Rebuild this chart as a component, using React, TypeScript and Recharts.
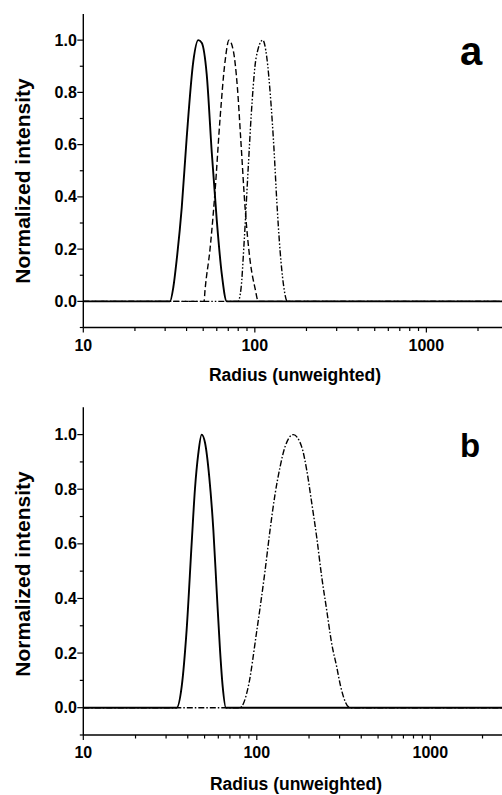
import React from 'react';
import { LineChart, Line, XAxis, YAxis } from 'recharts';

// ---------- data (radius, normalized intensity) ----------
// Panel a
const aSolidR = [10, 32.0, 33.5, 35.0, 37.5, 40.1, 43.8, 46.8, 49.0, 52.4, 56.1, 60.0, 64.1, 68.6, 2760];
const aSolidV = [0, 0, 0.055, 0.157, 0.36, 0.63, 0.92, 1.0, 0.99, 0.87, 0.57, 0.31, 0.107, 0, 0];

const aDashR = [10, 50.6, 51.2, 54.8, 58.6, 62.7, 67.1, 70.7, 74.9, 79.1, 82.8, 87.7, 93.8, 100.3, 104.8, 2760];
const aDashV = [0, 0, 0.04, 0.2, 0.42, 0.7, 0.92, 1.0, 0.96, 0.82, 0.62, 0.36, 0.157, 0.05, 0, 0];

const aDotR = [10, 79.8, 83.1, 86.5, 91.3, 96.3, 101.6, 111.2, 117.3, 123.8, 129.4, 134.2, 140.3, 146.6, 154.7, 2760];
const aDotV = [0, 0, 0.05, 0.22, 0.5, 0.76, 0.93, 1.0, 0.936, 0.77, 0.58, 0.387, 0.195, 0.068, 0, 0];

// Panel b
const bSolidR = [10, 34.5, 36.9, 39.4, 42.2, 44.0, 46.0, 48.1, 50.3, 53.2, 56.2, 58.7, 61.4, 63.6, 66.4, 2590];
const bSolidV = [0, 0, 0.077, 0.284, 0.61, 0.8, 0.93, 1.0, 0.97, 0.845, 0.65, 0.43, 0.21, 0.077, 0, 0];

const bDashDotR = [10, 80.0, 89.3, 99.9, 111.5, 119.2, 127.3, 136.0, 145.4, 162.3, 181.5, 194.0, 207.3, 221.4, 236.6, 252.9, 270.2, 288.7, 304.5, 344.5, 2590];
const bDashDotV = [0, 0, 0.077, 0.28, 0.5, 0.65, 0.78, 0.88, 0.955, 1.0, 0.955, 0.87, 0.75, 0.625, 0.48, 0.357, 0.235, 0.15, 0.077, 0, 0];

// ---------- axes ----------
const xTicks = [10, 20, 30, 40, 50, 60, 70, 80, 90, 100, 200, 300, 400, 500, 600, 700, 800, 900, 1000, 2000];
const xMajor = [10, 100, 1000];
const yTicks = [-0.1, 0, 0.1, 0.2, 0.3, 0.4, 0.5, 0.6, 0.7, 0.8, 0.9, 1.0];
const yMajor = [0, 0.2, 0.4, 0.6, 0.8, 1.0];

const xDomainA: [number, number] = [10, 2760];
const xDomainB: [number, number] = [10, 2590];

const zip = (r: number[], v: number[]) => r.map((x, i) => ({ r: x, v: v[i] }));

const FONT = '"Liberation Sans", Arial, Helvetica, sans-serif';

const XTick = (props: any) => {
  const { x, y, payload } = props;
  const v = payload.value;
  const major = xMajor.includes(v);
  return (
    <g>
      <line x1={x} y1={y} x2={x} y2={y + (major ? 5 : 3.5)} stroke="#000" strokeWidth={1.2} />
      {major && (
        <text x={x} y={y + 23} textAnchor="middle" fontFamily={FONT} fontWeight="bold" fontSize={16} fill="#000">
          {v}
        </text>
      )}
    </g>
  );
};

const YTick = (props: any) => {
  const { x, y, payload } = props;
  const v = payload.value;
  const major = yMajor.some((m) => Math.abs(m - v) < 1e-6);
  return (
    <g>
      <line x1={x} y1={y} x2={x - (major ? 6 : 3.5)} y2={y} stroke="#000" strokeWidth={1.2} />
      {major && (
        <text x={x - 6.5} y={y + 5.6} textAnchor="end" fontFamily={FONT} fontWeight="bold" fontSize={16} fill="#000">
          {v.toFixed(1)}
        </text>
      )}
    </g>
  );
};

const axisLine = { stroke: '#000', strokeWidth: 1.4 };

function Panel(props: {
  height: number;
  top: number;
  xAxisHeight: number;
  domain: [number, number];
  series: { data: { r: number; v: number }[]; dash?: string; width: number }[];
}) {
  const { height, top, xAxisHeight, domain, series } = props;
  return (
    <LineChart width={502} height={height} margin={{ top, right: 0, bottom: 0, left: 0 }}>
      <XAxis
        dataKey="r"
        type="number"
        scale="log"
        domain={domain}
        allowDataOverflow
        ticks={xTicks}
        interval={0}
        tick={<XTick />}
        tickLine={false}
        tickSize={0}
        tickMargin={0}
        axisLine={axisLine}
        height={xAxisHeight}
      />
      <YAxis
        type="number"
        domain={[-0.1, 1.1]}
        allowDataOverflow
        ticks={yTicks}
        interval={0}
        tick={<YTick />}
        tickLine={false}
        tickSize={0}
        tickMargin={0}
        axisLine={axisLine}
        width={83.3}
      />
      {series.map((s, i) => (
        <Line
          key={i}
          data={s.data}
          dataKey="v"
          type="monotone"
          stroke="#000"
          strokeWidth={s.width}
          strokeDasharray={s.dash}
          dot={false}
          activeDot={false}
          isAnimationActive={false}
        />
      ))}
    </LineChart>
  );
}

export default function App() {
  const textStyle = { fontFamily: FONT, fontWeight: 'bold' as const, fill: '#000' };
  return (
    <div style={{ position: 'absolute', left: 0, top: 0, width: 502, height: 795, background: '#fff', overflow: 'hidden' }}>
      <div style={{ position: 'absolute', left: 0, top: 0 }}>
        <Panel
          height={395}
          top={14}
          xAxisHeight={67.5}
          domain={xDomainA}
          series={[
            { data: zip(aDotR, aDotV), dash: '6 2 1.5 2 1.5 2', width: 1.4 },
            { data: zip(aDashR, aDashV), dash: '6 3', width: 1.4 },
            { data: zip(aSolidR, aSolidV), width: 1.9 },
          ]}
        />
      </div>
      <div style={{ position: 'absolute', left: 0, top: 395 }}>
        <Panel
          height={400}
          top={12.3}
          xAxisHeight={60}
          domain={xDomainB}
          series={[
            { data: zip(bDashDotR, bDashDotV), dash: '6 2 1.5 2', width: 1.4 },
            { data: zip(bSolidR, bSolidV), width: 1.9 },
          ]}
        />
      </div>
      <svg width={502} height={795} style={{ position: 'absolute', left: 0, top: 0, pointerEvents: 'none' }}>
        <text transform="translate(30,181) rotate(-90)" textAnchor="middle" fontSize={21} {...textStyle}>
          Normalized intensity
        </text>
        <text transform="translate(30,574) rotate(-90)" textAnchor="middle" fontSize={21} {...textStyle}>
          Normalized intensity
        </text>
        <text x={295} y={381} textAnchor="middle" fontSize={17.5} {...textStyle}>
          Radius (unweighted)
        </text>
        <text x={296} y={790} textAnchor="middle" fontSize={17.5} {...textStyle}>
          Radius (unweighted)
        </text>
        <text x={460} y={65} fontSize={40} {...textStyle}>a</text>
        <text x={460} y={457} fontSize={33} {...textStyle}>b</text>
      </svg>
    </div>
  );
}
